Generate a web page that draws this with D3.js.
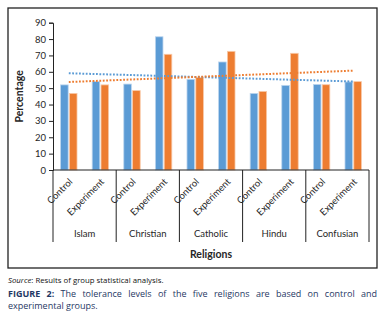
<!DOCTYPE html>
<html lang="en">
<head>
    <meta charset="UTF-8">
    <title>Tolerance levels by religion</title>
    <script src="https://d3js.org/d3.v7.min.js"></script>
    <style>
        body { margin: 0; background: #fff; position: relative; width: 384px; height: 318px; overflow: hidden; }
        #chart { position: absolute; left: 0; top: 0; }
        .note { position: absolute; left: 8px; width: 369px; font-family: "Open Sans", sans-serif; white-space: nowrap; }
        #source { top: 276px; font-size: 7.8px; line-height: 9px; color: #111; }
        .cap { font-size: 9px; line-height: 9.5px; color: #1f3864; }
        #cap1 { top: 289px; text-align: justify; text-align-last: justify; }
        #cap2 { top: 301px; }
    </style>
</head>
<body>
    <div id="chart"></div>
    <div class="note" id="source"><i>Source</i>: Results of group statistical analysis.</div>
    <div class="note cap" id="cap1"><b>FIGURE 2:</b> The tolerance levels of the five religions are based on control and</div>
    <div class="note cap" id="cap2">experimental groups.</div>

    <script>
        // data
        const religions = ["Islam", "Christian", "Catholic", "Hindu", "Confusian"];
        const groups = ["Control", "Experiment"];
        const seriesNames = ["Series1", "Series2"];
        const blueValues = [52, 54, 52.5, 81.4, 55.4, 66, 46.8, 51.7, 52.3, 53.8];
        const orangeValues = [46.8, 52, 48.5, 70.7, 56.5, 72.5, 48, 71.3, 52.1, 54];
        const yTicks = [0, 10, 20, 30, 40, 50, 60, 70, 80, 90];

        const colors = ["#5b9bd5", "#ed7d31"];
        const edge = ["#bcd5ee", "#f8c9a8"];

        const width = 384, height = 270;
        const plotLeft = 53, plotRight = 369, plotTop = 22.7, plotBottom = 170;

        const svg = d3.select("#chart").append("svg")
            .attr("width", width)
            .attr("height", height)
            .style("font-family", "Lato, sans-serif");

        svg.append("rect")
            .attr("x", 8).attr("y", 8)
            .attr("width", 369).attr("height", 260)
            .attr("fill", "none")
            .attr("stroke", "#222")
            .attr("stroke-width", 1.3);

        // one category per religion/group pair
        const cats = [];
        religions.forEach(r => groups.forEach(g => cats.push(r + "|" + g)));

        const x = d3.scaleBand().domain(cats).range([plotLeft, plotRight]);
        const bw = x.bandwidth();
        const xs = d3.scaleBand().domain(seriesNames)
            .range([bw * 0.24, bw * 0.76])
            .paddingInner(0.14);
        const y = d3.scaleLinear().domain([0, 90]).range([plotBottom, plotTop]);

        // y axis
        const yAxis = svg.append("g")
            .attr("transform", "translate(" + plotLeft + ",0)")
            .call(d3.axisLeft(y).tickValues(yTicks).tickSize(4).tickPadding(3));
        yAxis.select(".domain").attr("stroke", "#222");
        yAxis.selectAll(".tick line").attr("stroke", "#222");
        yAxis.selectAll("text")
            .attr("font-size", 9.5)
            .attr("fill", "#262626")
            .attr("font-family", "Lato, sans-serif");

        svg.append("text")
            .attr("transform", "translate(23," + ((plotTop + plotBottom) / 2) + ") rotate(-90)")
            .attr("text-anchor", "middle")
            .attr("font-size", 10.5)
            .attr("font-weight", "bold")
            .attr("fill", "#262626")
            .text("Percentage");

        // bars
        const allSeries = [blueValues, orangeValues];
        allSeries.forEach((vals, s) => {
            svg.append("g").selectAll("rect")
                .data(vals)
                .enter()
                .append("rect")
                .attr("x", (d, i) => x(cats[i]) + xs(seriesNames[s]))
                .attr("y", d => y(d))
                .attr("width", xs.bandwidth())
                .attr("height", d => y(0) - y(d))
                .attr("fill", colors[s])
                .attr("stroke", edge[s])
                .attr("stroke-width", 0.8);
        });

        // linear trendlines
        allSeries.forEach((vals, s) => {
            const n = vals.length;
            const xm = (n + 1) / 2;
            const ym = d3.mean(vals);
            let sxy = 0, sxx = 0;
            vals.forEach((v, i) => { sxy += (i + 1 - xm) * (v - ym); sxx += (i + 1 - xm) ** 2; });
            const slope = sxy / sxx;
            const f = k => ym + slope * (k - xm);
            svg.append("line")
                .attr("x1", x(cats[0]) + bw / 2)
                .attr("x2", x(cats[n - 1]) + bw / 2)
                .attr("y1", y(f(1)))
                .attr("y2", y(f(n)))
                .attr("stroke", colors[s])
                .attr("stroke-width", 2)
                .attr("stroke-dasharray", "1.8,1.6");
        });

        // x axis line
        svg.append("line")
            .attr("x1", plotLeft).attr("x2", plotRight)
            .attr("y1", plotBottom).attr("y2", plotBottom)
            .attr("stroke", "#222");

        // group dividers
        const groupEdges = d3.range(religions.length + 1).map(i => plotLeft + i * bw * groups.length);
        svg.append("g").selectAll("line")
            .data(groupEdges)
            .enter()
            .append("line")
            .attr("x1", d => d).attr("x2", d => d)
            .attr("y1", plotBottom).attr("y2", 242)
            .attr("stroke", "#222");

        // sub labels
        svg.append("g").selectAll("text")
            .data(cats)
            .enter()
            .append("text")
            .attr("transform", d => "translate(" + (x(d) + bw / 2 + 2) + "," + (plotBottom + 10) + ") rotate(-45)")
            .attr("text-anchor", "end")
            .attr("dy", "0.35em")
            .attr("font-size", 9.5)
            .attr("fill", "#262626")
            .text(d => d.split("|")[1]);

        // religion labels
        svg.append("g").selectAll("text")
            .data(religions)
            .enter()
            .append("text")
            .attr("x", (d, i) => plotLeft + (i + 0.5) * bw * groups.length)
            .attr("y", 237)
            .attr("text-anchor", "middle")
            .attr("font-size", 9.5)
            .attr("fill", "#262626")
            .text(d => d);

        svg.append("text")
            .attr("x", (plotLeft + plotRight) / 2)
            .attr("y", 258)
            .attr("text-anchor", "middle")
            .attr("font-size", 10.5)
            .attr("font-weight", "bold")
            .attr("fill", "#262626")
            .text("Religions");
    </script>
</body>
</html>
